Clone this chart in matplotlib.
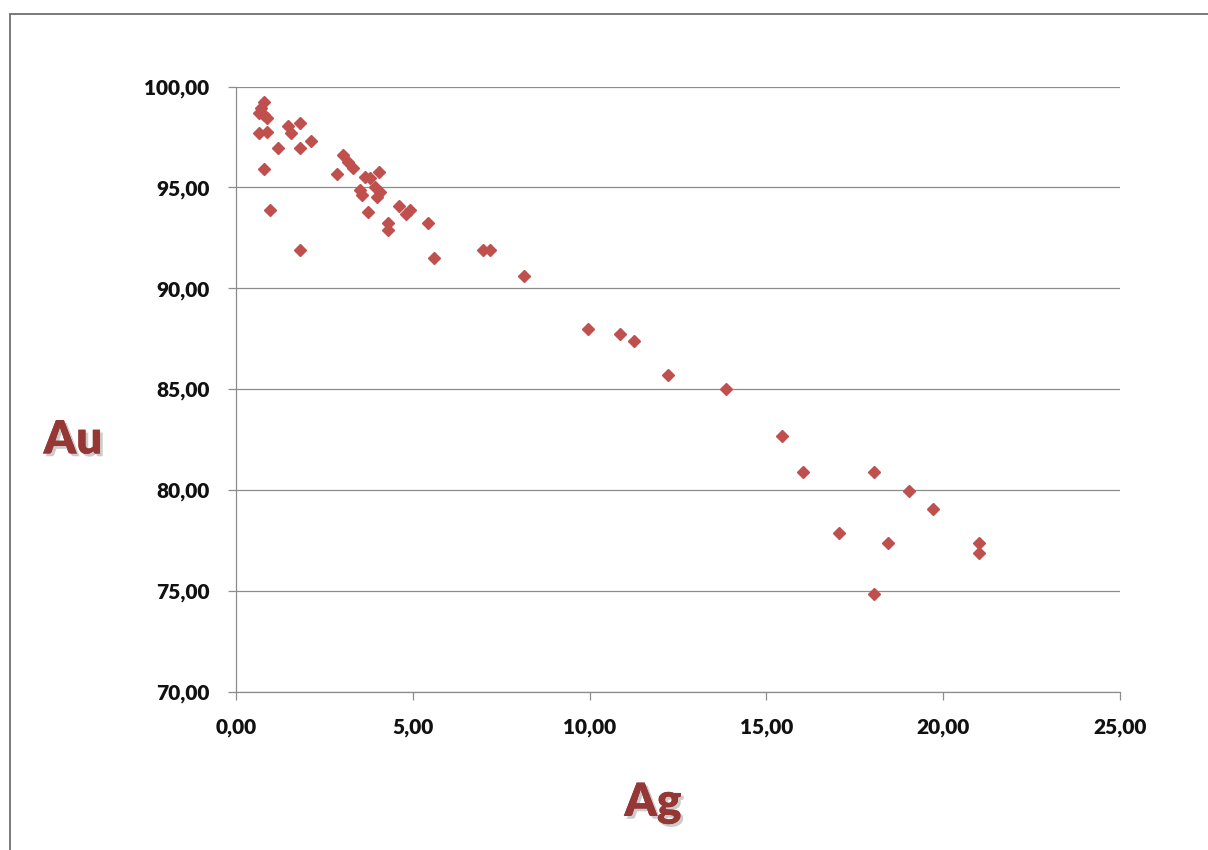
import matplotlib
matplotlib.use("Agg")
import matplotlib.pyplot as plt
import matplotlib.patheffects as pe
from matplotlib.patches import Rectangle
from matplotlib.ticker import FuncFormatter

# Ag / Au contents
ag = [0.78, 0.64, 0.78, 0.88, 0.71, 0.66, 0.88, 1.19, 1.47, 1.56, 1.80, 1.80, 2.11,
      0.80, 0.95, 1.82,
      3.03, 3.18, 3.32, 2.85, 4.05, 3.65, 3.79, 3.51, 3.93, 4.07, 3.98, 3.55, 3.74,
      4.61, 4.92, 4.81, 4.31, 4.31, 5.44, 5.60,
      6.99, 7.18, 8.15, 9.95, 10.86, 11.26, 12.23, 13.85, 15.45, 16.03, 18.05,
      19.04, 19.72, 17.05, 18.43, 21.01, 21.01, 18.05]
au = [99.25, 98.67, 98.59, 98.43, 98.94, 97.71, 97.73, 96.95, 98.06, 97.71, 98.21, 96.95, 97.31,
      95.89, 93.90, 91.92,
      96.60, 96.27, 95.94, 95.65, 95.78, 95.53, 95.45, 94.87, 95.03, 94.78, 94.53, 94.61, 93.78,
      94.09, 93.87, 93.67, 93.22, 92.89, 93.22, 91.52,
      91.92, 91.92, 90.59, 87.96, 87.75, 87.41, 85.68, 85.01, 82.66, 80.87, 80.87,
      79.93, 79.05, 77.86, 77.38, 77.39, 76.90, 74.86]

x_ticks = [0, 5, 10, 15, 20, 25]
y_ticks = [70, 75, 80, 85, 90, 95, 100]

plt.rcParams['font.family'] = ['Lato', 'DejaVu Sans']

W, H = 1208, 850
fig = plt.figure(figsize=(W / 100, H / 100), dpi=100)
ax = fig.add_axes([236 / W, 1 - 691.7 / H, (1120 - 236) / W, (691.7 - 86.6) / H])

ax.plot(ag, au, linestyle='none', marker='D', ms=5.8, color='#C0504D', mec='#C0504D', zorder=3)

ax.set_xlim(0, 25)
ax.set_ylim(70, 100)
ax.set_xticks(x_ticks)
ax.set_yticks(y_ticks)
fmt = FuncFormatter(lambda v, p: f"{v:.2f}".replace('.', ','))
ax.xaxis.set_major_formatter(fmt)
ax.yaxis.set_major_formatter(fmt)

ax.grid(axis='y', color='#8c8c8c', lw=0.9)
ax.set_axisbelow(True)
for s in ['top', 'right']:
    ax.spines[s].set_visible(False)
for s in ['left', 'bottom']:
    ax.spines[s].set_color('#8c8c8c')
    ax.spines[s].set_linewidth(0.9)
ax.tick_params(axis='both', direction='out', length=6, width=0.9, color='#8c8c8c',
               labelsize=15, pad=13)
for lab in ax.get_xticklabels() + ax.get_yticklabels():
    lab.set_fontweight('heavy')
    lab.set_color('#111111')

shadow = [pe.withSimplePatchShadow(offset=(2, -2), shadow_rgbFace='#999999', alpha=0.5), pe.Normal()]
fig.text(73 / W, 1 - 440 / H, 'Au', color='#953735', fontsize=33, fontweight='heavy',
         ha='center', va='center', path_effects=shadow)
fig.text(653 / W, 1 - 803 / H, 'Ag', color='#953735', fontsize=33, fontweight='heavy',
         ha='center', va='center', path_effects=shadow)

fig.add_artist(Rectangle((10 / W, -0.05), 1.2, (1 - 14 / H) + 0.05, transform=fig.transFigure,
                         fill=False, ec='#6e6e6e', lw=1.3))

fig.savefig('out.png', dpi=100)
